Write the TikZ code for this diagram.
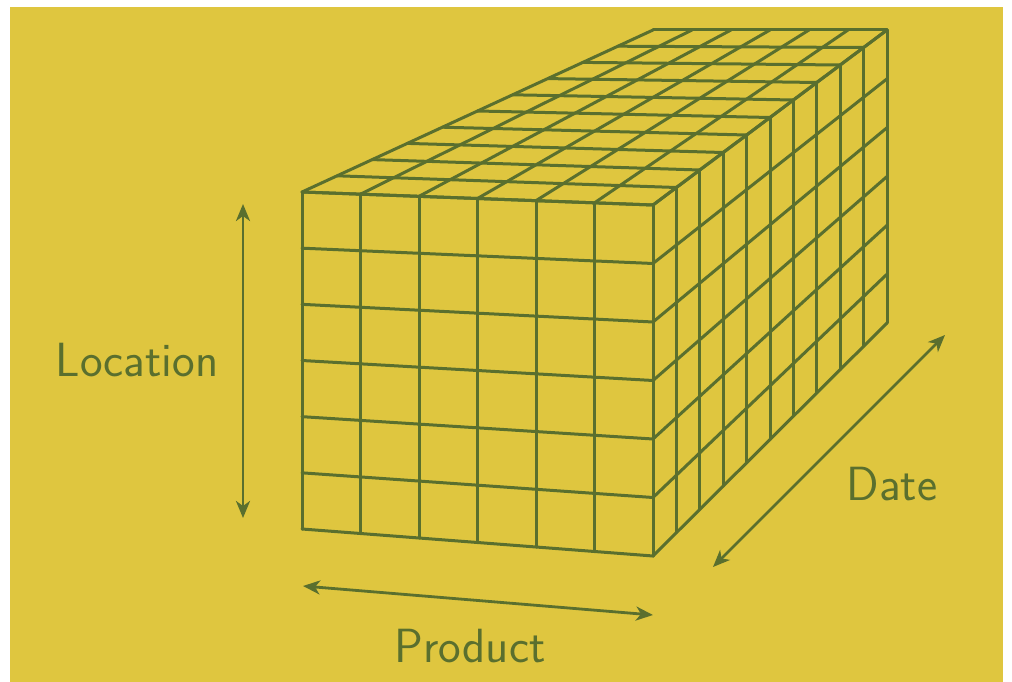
\documentclass[tikz,border=0pt]{standalone}
\usetikzlibrary{calc,arrows.meta}
\definecolor{bgyellow}{HTML}{DFC63F}
\definecolor{olive}{HTML}{5A6F2E}
\tikzset{
  gridline/.style={draw=olive,line width=3pt,line cap=round,line join=round},
  dimarrow/.style={draw=olive,line width=2.8pt,{Stealth[length=17pt,width=14pt,inset=5pt]}-{Stealth[length=17pt,width=14pt,inset=5pt]}},
  dimlabel/.style={text=olive,font=\sffamily\fontsize{48}{56}\selectfont,anchor=base,inner sep=0pt}
}
\begin{document}
\begin{tikzpicture}[x=1pt,y=-1pt]
\useasboundingbox (0,0) rectangle (1012,682);
\fill[white] (0,0) rectangle (1012,682);
\fill[bgyellow] (10,7) rectangle (1003,682);
% cube corners
\coordinate (A) at (302,192);
\coordinate (B) at (653,205);
\coordinate (C) at (653,556);
\coordinate (D) at (302,529);
\coordinate (E) at (653,30);
\coordinate (F) at (887,30);
\coordinate (G) at (887,323);
% front face
\foreach \i in {0,...,6}{
  \draw[gridline] ($(A)!\i/6!(B)$) -- ($(D)!\i/6!(C)$);
  \draw[gridline] ($(A)!\i/6!(D)$) -- ($(B)!\i/6!(C)$);
}
% top face
\foreach \i in {0,...,6}{
  \draw[gridline] ($(A)!\i/6!(B)$) -- ($(E)!\i/6!(F)$);
}
\foreach \k in {0,...,10}{
  \draw[gridline] ($(A)!\k/10!(E)$) -- ($(B)!\k/10!(F)$);
}
% right face
\foreach \k in {0,...,10}{
  \draw[gridline] ($(B)!\k/10!(F)$) -- ($(C)!\k/10!(G)$);
}
\foreach \j in {0,...,6}{
  \draw[gridline] ($(B)!\j/6!(C)$) -- ($(F)!\j/6!(G)$);
}
% dimension arrows
\coordinate (loc1) at (243,204);
\coordinate (loc2) at (243,518);
\coordinate (prod1) at (303,586);
\coordinate (prod2) at (653,615);
\coordinate (date1) at (713,567);
\coordinate (date2) at (945,335);
\draw[dimarrow] (loc1) -- (loc2);
\draw[dimarrow] (prod1) -- (prod2);
\draw[dimarrow] (date1) -- (date2);
% labels
\node[dimlabel] (location) at (137,376) {Location};
\node[dimlabel] (product) at (470,662) {Product};
\node[dimlabel] (date) at (892,500) {Date};
\end{tikzpicture}
\end{document}
